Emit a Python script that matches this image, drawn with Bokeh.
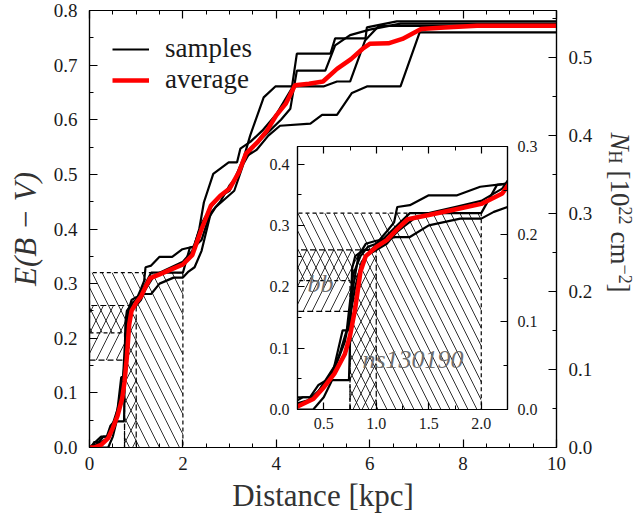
import math
from bokeh.plotting import figure
from bokeh.models import (Range1d, LinearAxis, Label, Legend, LegendItem, FixedTicker,
                          NumeralTickFormatter, CustomJSTickFormatter)
from bokeh.embed import file_html
from bokeh.resources import INLINE

# ---------------- data ----------------
avg_dist = [0.0, 0.1, 0.25, 0.4, 0.5, 0.6, 0.7, 0.75, 0.8, 0.85, 0.9, 1.0, 1.1, 1.2, 1.3, 1.5, 1.75, 2.0,
            2.2, 2.4, 2.6, 2.8, 3.0, 3.2, 3.35, 3.6, 3.8, 4.0, 4.2, 4.4, 4.7, 5.0, 5.3, 5.6, 5.85, 6.0,
            6.4, 6.7, 7.1, 7.6, 8.3, 10.0]
avg_ebv = [0.0, 0.0, 0.005, 0.017, 0.036, 0.058, 0.09, 0.12, 0.165, 0.225, 0.25, 0.265, 0.276, 0.294,
           0.31, 0.317, 0.326, 0.335, 0.352, 0.40, 0.443, 0.461, 0.474, 0.504, 0.538, 0.559, 0.58, 0.608,
           0.629, 0.663, 0.666, 0.67, 0.693, 0.711, 0.73, 0.739, 0.74, 0.748, 0.766, 0.769, 0.772, 0.772]

sample1_dist = [0.0, 0.25, 0.37, 0.45, 0.55, 0.65, 0.72, 0.78, 0.85, 0.92, 1.0, 1.1, 1.17, 1.2, 1.32, 1.5,
                1.77, 1.99, 2.24, 2.35, 2.45, 2.65, 2.98, 3.16, 3.23, 3.45, 3.7, 4.0, 4.33, 4.44, 5.16,
                5.26, 5.91, 5.94, 6.58, 10.0]
sample1_ebv = [0.0, 0.02, 0.02, 0.04, 0.05, 0.09, 0.13, 0.22, 0.25, 0.265, 0.27, 0.29, 0.305, 0.33, 0.333,
               0.349, 0.349, 0.363, 0.368, 0.40, 0.449, 0.501, 0.522, 0.522, 0.547, 0.56, 0.58, 0.61,
               0.657, 0.721, 0.721, 0.749, 0.749, 0.769, 0.78, 0.78]

sample2_dist = [0.0, 0.1, 0.4, 0.5, 0.58, 0.74, 0.77, 0.8, 0.88, 0.95, 1.05, 1.2, 1.32, 2.0, 2.15, 2.25,
                2.4, 2.55, 2.7, 2.9, 3.1, 3.3, 3.5, 3.8, 4.1, 4.3, 4.44, 5.05, 5.26, 5.58, 6.0, 6.66, 10.0]
sample2_ebv = [0.0, 0.0, 0.0, 0.02, 0.048, 0.048, 0.23, 0.25, 0.26, 0.26, 0.275, 0.30, 0.32, 0.32, 0.366,
               0.368, 0.38, 0.42, 0.44, 0.455, 0.47, 0.52, 0.55, 0.575, 0.60, 0.62, 0.69, 0.69, 0.736,
               0.755, 0.765, 0.776, 0.776]

sample3_dist = [0.0, 0.25, 0.35, 0.45, 0.6, 0.68, 0.74, 0.78, 0.83, 0.9, 1.0, 1.18, 1.32, 1.5, 1.8, 2.0,
                2.12, 2.25, 2.4, 2.6, 2.8, 3.0, 3.2, 3.44, 3.73, 3.98, 5.01, 5.30, 5.58, 5.9, 6.2, 10.0]
sample3_ebv = [0.0, 0.01, 0.015, 0.03, 0.07, 0.129, 0.129, 0.2, 0.25, 0.27, 0.275, 0.281, 0.281, 0.30,
               0.311, 0.311, 0.322, 0.33, 0.36, 0.43, 0.45, 0.48, 0.50, 0.571, 0.641, 0.661, 0.661, 0.670,
               0.670, 0.745, 0.772, 0.772]

sample4_dist = [0.0, 0.05, 0.1, 0.2, 0.3, 0.4, 0.5, 0.6, 0.7, 0.76, 0.8, 0.86, 0.9, 1.0, 1.1, 1.2, 1.35,
                1.5, 1.75, 2.0, 2.2, 2.4, 2.6, 2.8, 3.0, 3.3, 3.58, 3.83, 4.08, 4.73, 4.98, 5.30, 5.62,
                5.94, 6.66, 7.07, 10.0]
sample4_ebv = [0.0, 0.0, 0.01, 0.01, 0.02, 0.02, 0.04, 0.065, 0.11, 0.16, 0.2, 0.24, 0.25, 0.26, 0.27,
               0.29, 0.31, 0.32, 0.33, 0.34, 0.36, 0.41, 0.44, 0.46, 0.47, 0.53, 0.545, 0.571, 0.589,
               0.593, 0.609, 0.609, 0.649, 0.661, 0.661, 0.76, 0.76]

samples = [(sample1_dist, sample1_ebv), (sample2_dist, sample2_ebv),
           (sample3_dist, sample3_ebv), (sample4_dist, sample4_ebv)]

# constraints: E(B-V) interval and distance interval of each model
ns_ebv = [0.21, 0.32]
ns_dist = [0.75, 2.0]
bb_ebv = [0.16, 0.26]
bb_dist = [0.75, 1.0]

NH_PER_EBV = 0.7   # 10^22 cm^-2 per mag of E(B-V)

main_x_ticks = [0, 2, 4, 6, 8, 10]
main_x_minor = [i * 0.5 for i in range(21)]
main_y_ticks = [0.0, 0.1, 0.2, 0.3, 0.4, 0.5, 0.6, 0.7, 0.8]
main_y_minor = [i * 0.05 for i in range(17)]
main_nh_ticks = [0.0, 0.1, 0.2, 0.3, 0.4, 0.5]
main_nh_minor = [i * 0.05 for i in range(12)]
inset_x_ticks = [0.5, 1.0, 1.5, 2.0]
inset_x_minor = [0.25 * i for i in range(1, 10)]
inset_y_ticks = [0.0, 0.1, 0.2, 0.3, 0.4]
inset_y_minor = [0.05 * i for i in range(9)]
inset_nh_ticks = [0.0, 0.1, 0.2, 0.3]
inset_nh_minor = [0.05 * i for i in range(7)]

SERIF = "'Liberation Serif', 'DejaVu Serif', serif"


def lshape(ebv, dist):
    lo, hi = ebv
    dlo, dhi = dist
    return [0.0, dlo, dlo, dhi, dhi, 0.0], [lo, lo, 0.0, 0.0, hi, hi]


def style_axis(ax, size="19px", tin=8, min_in=4, standoff=10):
    ax.major_tick_in = tin
    ax.major_tick_out = 0
    ax.minor_tick_in = min_in
    ax.minor_tick_out = 0
    ax.axis_line_color = "black"
    ax.axis_line_width = 1.2
    ax.major_tick_line_color = "black"
    ax.major_tick_line_width = 1.2
    ax.minor_tick_line_color = "black"
    ax.minor_tick_line_width = 1
    ax.major_label_text_font = SERIF
    ax.major_label_text_font_size = size
    ax.major_label_text_color = "#1a1a1a"
    ax.major_label_standoff = standoff


def blank_axis(ax):
    ax.formatter = CustomJSTickFormatter(code="return ''")
    ax.major_label_text_font_size = "1px"
    ax.major_label_standoff = 0


def draw_content(fig, hatch_scale):
    xs, ys = lshape(ns_ebv, ns_dist)
    fig.patch(xs, ys, fill_color=None, hatch_pattern="\\", hatch_color="black", hatch_alpha=0.9,
              hatch_scale=hatch_scale, hatch_weight=0.9, line_color="black", line_dash="4 3",
              line_width=1.2)
    xs, ys = lshape(bb_ebv, bb_dist)
    fig.patch(xs, ys, fill_color=None, hatch_pattern="/", hatch_color="black", hatch_alpha=0.9,
              hatch_scale=hatch_scale, hatch_weight=0.9, line_color="black", line_dash="6 3",
              line_width=1.2)
    rs = []
    for d, e in samples:
        rs.append(fig.line(d, e, line_color="black", line_width=2.2))
    ravg = fig.line(avg_dist, avg_ebv, line_color="red", line_width=4.5)
    return rs, ravg


# ---------------- main figure ----------------
ML, MR, MT, MB = 89, 84, 10, 73
W, H = 640, 520
p = figure(width=W, height=H, x_range=Range1d(0, 10), y_range=Range1d(0, 0.8),
           output_backend="svg", toolbar_location=None, x_axis_type=None, y_axis_type=None,
           min_border_left=ML, min_border_right=MR, min_border_top=MT, min_border_bottom=MB)
p.extra_y_ranges = {"nh": Range1d(0, 0.8 * NH_PER_EBV)}
p.xgrid.visible = False
p.ygrid.visible = False
p.outline_line_color = "black"
p.outline_line_width = 1.2
p.background_fill_color = "white"
p.border_fill_color = "white"

bottom = LinearAxis(ticker=FixedTicker(ticks=main_x_ticks, minor_ticks=main_x_minor),
                    formatter=NumeralTickFormatter(format="0"))
style_axis(bottom, standoff=9)
bottom.axis_label = "Distance [kpc]"
bottom.axis_label_text_font = SERIF
bottom.axis_label_text_font_style = "normal"
bottom.axis_label_text_font_size = "31px"
bottom.axis_label_text_color = "#333333"
bottom.axis_label_standoff = 5
p.add_layout(bottom, "below")

top = LinearAxis(ticker=FixedTicker(ticks=main_x_ticks, minor_ticks=main_x_minor))
style_axis(top)
blank_axis(top)
p.add_layout(top, "above")

left = LinearAxis(ticker=FixedTicker(ticks=main_y_ticks, minor_ticks=main_y_minor),
                  formatter=NumeralTickFormatter(format="0.0"))
style_axis(left, standoff=12)
left.axis_label = "E(B \u2212 V)"
left.axis_label_text_font = SERIF
left.axis_label_text_font_style = "italic"
left.axis_label_text_font_size = "31px"
left.axis_label_text_color = "#333333"
left.axis_label_standoff = 8
p.add_layout(left, "left")

right = LinearAxis(y_range_name="nh",
                   ticker=FixedTicker(ticks=main_nh_ticks, minor_ticks=main_nh_minor),
                   formatter=NumeralTickFormatter(format="0.0"))
style_axis(right, standoff=12)
p.add_layout(right, "right")

rs, ravg = draw_content(p, 20)

legend = Legend(items=[LegendItem(label="samples", renderers=[rs[0]]),
                       LegendItem(label="average", renderers=[ravg])],
                location="top_left", border_line_color=None, background_fill_alpha=0,
                label_text_font=SERIF, label_text_font_size="27px", label_text_color="#1a1a1a",
                glyph_width=37, label_standoff=16, margin=23, padding=10, spacing=0)
p.add_layout(legend)

# ---------------- inset ----------------
IL, IR, IT, IB = 45, 45, 14, 35
IW, IH = 210 + IL + IR, 263 + IT + IB
ins = figure(width=IW, height=IH, x_range=Range1d(0.25, 2.25), y_range=Range1d(0, 0.3 / NH_PER_EBV),
             output_backend="svg", toolbar_location=None, x_axis_type=None, y_axis_type=None,
             min_border_left=IL, min_border_right=IR, min_border_top=IT, min_border_bottom=IB)
ins.extra_y_ranges = {"nh": Range1d(0, 0.3)}
ins.xgrid.visible = False
ins.ygrid.visible = False
ins.outline_line_color = "black"
ins.outline_line_width = 1.2
ins.background_fill_color = "white"
ins.border_fill_color = None
ins.styles = {"position": "absolute", "left": f"{297 - IL}px", "top": f"{146 - IT}px"}

ib = LinearAxis(ticker=FixedTicker(ticks=inset_x_ticks, minor_ticks=inset_x_minor),
                formatter=NumeralTickFormatter(format="0.0"))
style_axis(ib, size="16px", tin=7, min_in=4, standoff=8)
ins.add_layout(ib, "below")
it = LinearAxis(ticker=FixedTicker(ticks=inset_x_ticks, minor_ticks=inset_x_minor))
style_axis(it, size="16px", tin=7, min_in=4)
blank_axis(it)
ins.add_layout(it, "above")
il = LinearAxis(ticker=FixedTicker(ticks=inset_y_ticks, minor_ticks=inset_y_minor),
                formatter=NumeralTickFormatter(format="0.0"))
style_axis(il, size="16px", tin=7, min_in=4, standoff=8)
ins.add_layout(il, "left")
ir = LinearAxis(y_range_name="nh", ticker=FixedTicker(ticks=inset_nh_ticks, minor_ticks=inset_nh_minor),
                formatter=NumeralTickFormatter(format="0.0"))
style_axis(ir, size="16px", tin=7, min_in=4, standoff=10)
ins.add_layout(ir, "right")

draw_content(ins, 18)

ins.add_layout(Label(x=0.47, y=0.205, text="bb", text_align="center", text_baseline="middle",
                     text_font=SERIF, text_font_style="italic", text_font_size="26px",
                     text_color="#6e6e6e"))
ins.add_layout(Label(x=1.35, y=0.082, text="ns130190", text_align="center", text_baseline="middle",
                     text_font=SERIF, text_font_style="italic", text_font_size="26px",
                     text_color="#6e6e6e"))

# ---------------- right-hand title N_H [10^22 cm^-2], reading top to bottom ----------------
TL, TT, TW, TH = 580, 115, 60, 190
nh = figure(width=TW, height=TH, x_range=Range1d(0, TW), y_range=Range1d(0, TH),
            output_backend="svg", toolbar_location=None, x_axis_type=None, y_axis_type=None,
            min_border=0, min_border_left=0, min_border_right=0, min_border_top=0, min_border_bottom=0)
nh.xgrid.visible = False
nh.ygrid.visible = False
nh.outline_line_color = None
nh.background_fill_color = None
nh.border_fill_color = None
nh.styles = {"position": "absolute", "left": f"{TL}px", "top": f"{TT}px"}

# (text, page y where the piece starts, page x of its baseline, size, style)
nh_pieces = [("N", 132, 619, "27px", "italic"), ("H", 150, 614, "18px", "normal"),
             ("[10", 170, 619, "27px", "normal"), ("22", 206, 625, "18px", "normal"),
             ("cm", 231, 619, "27px", "normal"), ("\u22122", 264, 625, "18px", "normal"),
             ("]", 283, 619, "27px", "normal")]
for txt, py, px, size, style in nh_pieces:
    nh.add_layout(Label(x=px - TL, y=TH - (py - TT), text=txt, angle=-math.pi / 2, text_align="left",
                        text_baseline="alphabetic", text_font=SERIF, text_font_size=size,
                        text_font_style=style, text_color="#333333"))

open("out.html", "w").write(file_html([p, ins, nh], INLINE, title="extinction"))
